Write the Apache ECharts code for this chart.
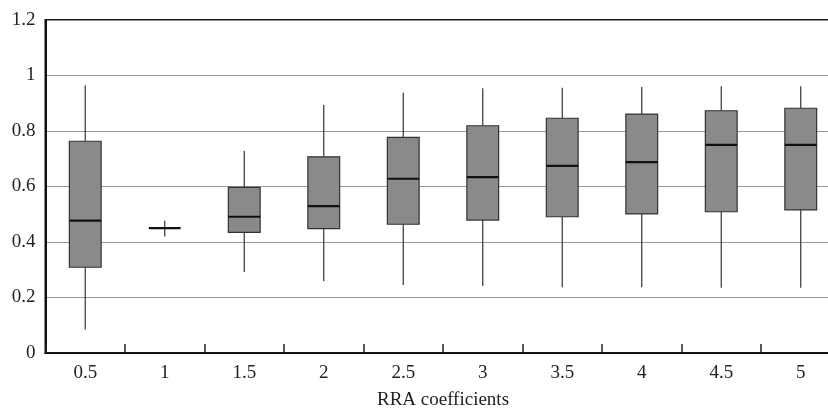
<!DOCTYPE html>
<html>
<head>
<meta charset="utf-8">
<script src="https://cdn.jsdelivr.net/npm/echarts@6/dist/echarts.min.js"></script>
<style>
  html, body { margin: 0; padding: 0; background: #fff; }
  #chart { width: 828px; height: 411px; }
</style>
</head>
<body>
<div id="chart"></div>
<script>
// RRA coefficient categories
const categories = ['0.5', '1', '1.5', '2', '2.5', '3', '3.5', '4', '4.5', '5']
// box values per category
const lowValues = [0.085, 0.42, 0.292, 0.259, 0.245, 0.241, 0.237, 0.237, 0.235, 0.235]
const q1Values = [0.309, 0.45, 0.435, 0.448, 0.464, 0.479, 0.491, 0.501, 0.509, 0.516]
const medianValues = [0.477, 0.45, 0.491, 0.529, 0.628, 0.634, 0.674, 0.688, 0.750, 0.750]
const q3Values = [0.763, 0.45, 0.597, 0.707, 0.777, 0.819, 0.846, 0.861, 0.873, 0.882]
const highValues = [0.965, 0.477, 0.729, 0.894, 0.938, 0.954, 0.956, 0.959, 0.961, 0.961]
const yTicks = [0, 0.2, 0.4, 0.6, 0.8, 1, 1.2]

const chart = echarts.init(document.getElementById('chart'))

const boxData = categories.map((c, i) => [i, lowValues[i], q1Values[i], medianValues[i], q3Values[i], highValues[i]])

function renderBox (params, api) {
  const x = api.value(0)
  const low = api.coord([x, api.value(1)])
  const q1 = api.coord([x, api.value(2)])
  const med = api.coord([x, api.value(3)])
  const q3 = api.coord([x, api.value(4)])
  const high = api.coord([x, api.value(5)])
  const w = api.size([1, 0])[0] * 0.4
  const cx = low[0]
  const children = [
    { type: 'line', shape: { x1: cx, y1: high[1], x2: cx, y2: q3[1] }, style: { stroke: '#333', lineWidth: 1.2 } },
    { type: 'line', shape: { x1: cx, y1: q1[1], x2: cx, y2: low[1] }, style: { stroke: '#333', lineWidth: 1.2 } }
  ]
  if (q3[1] < q1[1]) {
    children.push({
      type: 'rect',
      shape: { x: cx - w / 2, y: q3[1], width: w, height: q1[1] - q3[1] },
      style: { fill: '#8a8a8a', stroke: '#333', lineWidth: 1.2 }
    })
  }
  children.push({
    type: 'line',
    shape: { x1: cx - w / 2, y1: med[1], x2: cx + w / 2, y2: med[1] },
    style: { stroke: '#111', lineWidth: 2.2 }
  })
  return { type: 'group', children }
}

const option = {
  animation: false,
  grid: {
    left: 45.5,
    right: -12.5,
    top: 20,
    bottom: 58,
    outerBoundsMode: 'none',
    show: true,
    borderColor: '#111',
    borderWidth: 2
  },
  xAxis: {
    type: 'category',
    data: categories,
    name: 'RRA coefficients',
    nameLocation: 'middle',
    nameGap: 38,
    nameTextStyle: { fontFamily: 'Liberation Serif', fontSize: 19, color: '#222' },
    axisLine: { show: true, lineStyle: { color: '#111', width: 2 } },
    axisTick: { show: true, interval: 0, inside: true, length: 9, lineStyle: { color: '#222', width: 1.5 } },
    axisLabel: { fontFamily: 'Liberation Serif', fontSize: 19, color: '#222', margin: 11 },
    splitLine: { show: false }
  },
  yAxis: {
    type: 'value',
    min: yTicks[0],
    max: yTicks[yTicks.length - 1],
    interval: 0.2,
    axisLine: { show: true, lineStyle: { color: '#111', width: 2 } },
    axisTick: { show: false },
    axisLabel: { fontFamily: 'Liberation Serif', fontSize: 19, color: '#222', margin: 10 },
    splitLine: { lineStyle: { color: '#999', width: 1.2 } }
  },
  series: [
    {
      type: 'custom',
      renderItem: renderBox,
      encode: { x: 0, y: [1, 2, 3, 4, 5] },
      data: boxData,
      z: 3
    }
  ]
}

chart.setOption(option)
</script>
</body>
</html>
